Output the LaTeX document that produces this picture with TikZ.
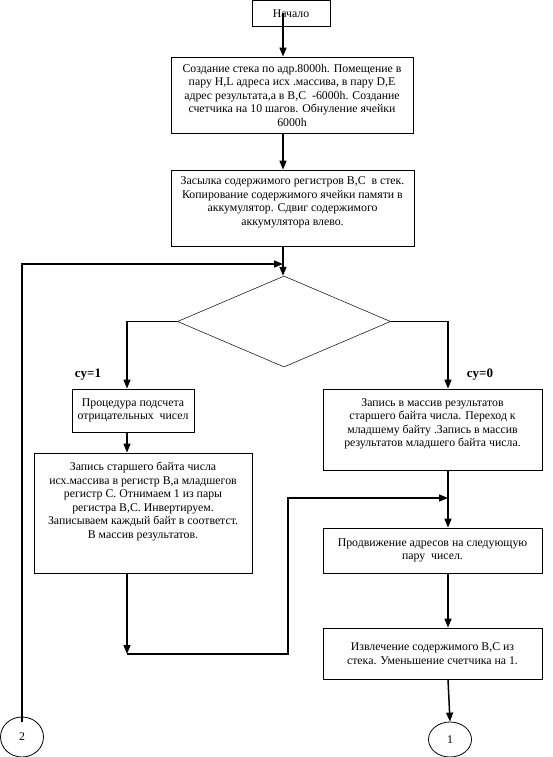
\documentclass[tikz,border=0pt]{standalone}
\usepackage{fontspec}
\setmainfont{Liberation Serif}
\usetikzlibrary{arrows.meta, shapes.geometric}

\begin{document}
\begin{tikzpicture}[
  x=1pt, y=-1pt,
  font=\fontsize{11.8}{13.5}\selectfont,
  box/.style={draw, line width=0.8pt, align=center, inner sep=1pt},
  decide/.style={diamond, draw, line width=0.5pt, inner sep=0pt,
                 minimum width=213pt, minimum height=91pt},
  conn/.style={ellipse, draw, line width=0.8pt, inner sep=0pt, minimum width=43pt},
  ar/.style={-{Triangle[length=9pt, width=7pt]}, line width=1.5pt},
  lbl/.style={font=\fontsize{13}{14}\selectfont\bfseries}
]
\useasboundingbox (0,0) rectangle (552,757);

% columns of the connectors
\coordinate (mc) at (283,0);
\coordinate (lc) at (127,0);
\coordinate (rc) at (448,0);

% ================= main column =================
\node[box, minimum width=78pt, minimum height=26pt] (start) at (291,13.5) {Начало};

\node[box, minimum width=242pt, minimum height=76pt] (init) at (292,95)
  {Создание стека по адр.8000h. Помещение в\\
   пару H,L адреса исх .массива, в пару D,E\\
   адрес результата,а в B,C \ -6000h. Создание\\
   счетчика на 10 шагов. Обнуление ячейки\\
   6000h};

\node[box, minimum width=243pt, minimum height=76pt] (shift) at (292.5,208)
  {Засылка содержимого регистров B,C \ в стек.\\
   Копирование содержимого ячейки памяти в\\
   аккумулятор. Сдвиг содержимого\\
   аккумулятора влево.\\ \rule{0pt}{6pt}};

\node[decide] (dec) at (284,321.5) {};

% ================= left branch: cy=1 =================
\node[box, minimum width=122pt, minimum height=43pt] (neg) at (133,410.5)
  {Процедура подсчета\\ отрицательных \ чисел};

\node[box, minimum width=218pt, minimum height=120pt] (inv) at (143,513)
  {Запись старшего байта числа\\
   исх.массива в регистр B,а младшегов\\
   регистр C. Отнимаем 1 из пары\\
   регистра B,C. Инвертируем.\\
   Записываем каждый байт в соответст.\\
   В массив результатов.\\ \rule{0pt}{22pt}};

% ================= right branch: cy=0 =================
\node[box, minimum width=219pt, minimum height=81pt] (pos) at (432.5,429.5)
  {Запись в массив результатов\\
   старшего байта числа. Переход к\\
   младшему байту .Запись в массив\\
   результатов младшего байта числа.\\ \rule{0pt}{6pt}};

\node[box, minimum width=219pt, minimum height=45pt] (next) at (432.5,550.5)
  {Продвижение адресов на следующую\\ пару \ чисел.};

\node[box, minimum width=219pt, minimum height=51pt] (pop) at (432.5,653.5)
  {Извлечение содержимого B,C из\\ стека. Уменьшение счетчика на 1.};

% connectors to other pages
\node[conn, minimum height=35pt] (c1) at (450,739.5) {1};
\node[conn, minimum height=40pt] (c2) at (22,737) {2};

\node[lbl] (cy1) at (88,375) {cy=1};
\node[lbl] (cy0) at (480,375) {cy=0};

% join points
\coordinate (mrg) at (283,264);
\coordinate (jl) at (127,654);
\coordinate (jr) at (288,654);
\coordinate (mrg2) at (448,498);

% ================= arrows =================
\draw[ar] (start.center -| mc) -- (init.north -| mc);
\draw[ar] (init.south -| mc) -- (shift.north -| mc);
\draw[ar] (shift.south -| mc) -- (dec.north -| mc);
\draw[ar] ([yshift=-5pt]c2.north) |- (mrg);

\draw[ar] (dec.west) -- (dec.west -| lc) -- (neg.north -| lc);
\draw[ar] (dec.east) -- (dec.east -| rc) -- (pos.north -| rc);

\draw[ar] (neg.south -| lc) -- (inv.north -| lc);
\draw[ar] (inv.south -| lc) -- (jl);
\draw[ar] (jl) -- (jr) |- (mrg2);

\draw[ar] (pos.south -| rc) -- (next.north -| rc);
\draw[ar] (next.south -| rc) -- (pop.north -| rc);
\draw[ar] (pop.south -| rc) -- (c1.north);

\end{tikzpicture}
\end{document}
